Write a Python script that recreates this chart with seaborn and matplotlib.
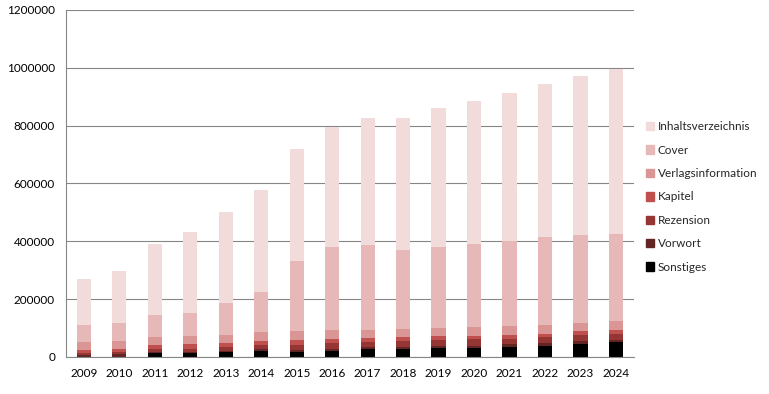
import matplotlib
matplotlib.use("Agg")
import matplotlib.pyplot as plt
import matplotlib.patches as mpatches
import seaborn as sns
import pandas as pd
import numpy as np

years = list(range(2009, 2025))
categories = ["Inhaltsverzeichnis", "Cover", "Verlagsinformation", "Kapitel",
              "Rezension", "Vorwort", "Sonstiges"]
colors = ["#F2DCDB", "#E6B9B8", "#DA9694", "#C0504D", "#963634", "#632523", "#000000"]

sonstiges = [1000, 1000, 13000, 13000, 16000, 21000, 18000, 22000, 26000, 26000, 30000, 32000, 36000, 39000, 46000, 53000]
vorwort = [6000, 9000, 5000, 5000, 6000, 7000, 6000, 6000, 7000, 10000, 8000, 7000, 8000, 8000, 8000, 6000]
rezension = [8000, 8000, 9000, 10000, 14000, 13000, 17000, 19000, 20000, 20000, 21000, 22000, 19000, 22000, 22000, 22000]
kapitel = [9000, 9000, 14000, 17000, 14000, 14000, 18000, 14000, 14000, 14000, 15000, 13000, 14000, 12000, 14000, 12000]
verlagsinformation = [29000, 28000, 29000, 27000, 26000, 30000, 32000, 32000, 26000, 27000, 27000, 31000, 30000, 30000, 28000, 32000]
cover = [57000, 63000, 75000, 81000, 111000, 139000, 240000, 286000, 293000, 272000, 278000, 285000, 293000, 303000, 303000, 299000]
inhaltsverzeichnis = [160000, 179000, 245000, 279000, 313000, 353000, 387000, 416000, 439000, 456000, 481000, 495000, 512000, 529000, 549000, 571000]

series = {
    "Inhaltsverzeichnis": inhaltsverzeichnis,
    "Cover": cover,
    "Verlagsinformation": verlagsinformation,
    "Kapitel": kapitel,
    "Rezension": rezension,
    "Vorwort": vorwort,
    "Sonstiges": sonstiges,
}

rows = []
for cat in categories:
    for y, v in zip(years, series[cat]):
        rows.append({"year": y, "category": cat, "value": v})
df = pd.DataFrame(rows)

sns.set_theme(style="white")
plt.rcParams["font.family"] = ["Lato", "DejaVu Sans"]

fig = plt.figure(figsize=(7.69, 3.94), dpi=100)
ax = fig.add_axes([0.086, 0.094, 0.738, 0.881])

sns.histplot(data=df, x="year", weights="value", hue="category",
             hue_order=categories, palette=colors, multiple="stack",
             discrete=True, shrink=0.4, linewidth=0, alpha=1,
             legend=False, ax=ax)

ax.set_xlim(2008.5, 2024.5)
ax.set_ylim(0, 1200000)
ax.set_yticks(np.arange(0, 1200001, 200000))
ax.set_yticklabels([str(int(v)) for v in np.arange(0, 1200001, 200000)])
ax.set_xticks(years)
ax.set_xticklabels([str(y) for y in years])
ax.set_xticks(np.arange(2008.5, 2025, 1), minor=True)
ax.tick_params(axis="x", which="major", length=0, pad=8, labelsize=8.5, colors="black")
ax.tick_params(axis="x", which="minor", length=5, width=0.8, color="#868686", direction="out")
ax.tick_params(axis="y", which="major", length=5, width=0.8, color="#868686", direction="out",
               labelsize=8.5, labelcolor="black", pad=3)
ax.set_xlabel("")
ax.set_ylabel("")
ax.grid(axis="y", color="#868686", linewidth=0.8)
ax.set_axisbelow(True)
for s in ["top", "right"]:
    ax.spines[s].set_visible(False)
for s in ["left", "bottom"]:
    ax.spines[s].set_color("#868686")
    ax.spines[s].set_linewidth(0.8)

handles = [mpatches.Patch(color=c, label=l) for c, l in zip(colors, categories)]
fig.legend(handles=handles, loc="center left", bbox_to_anchor=(0.826, 0.5),
           frameon=False, fontsize=8.5, handlelength=0.7, handleheight=0.7,
           handletextpad=0.3, labelspacing=1.05)

fig.savefig("out.png", dpi=100)
